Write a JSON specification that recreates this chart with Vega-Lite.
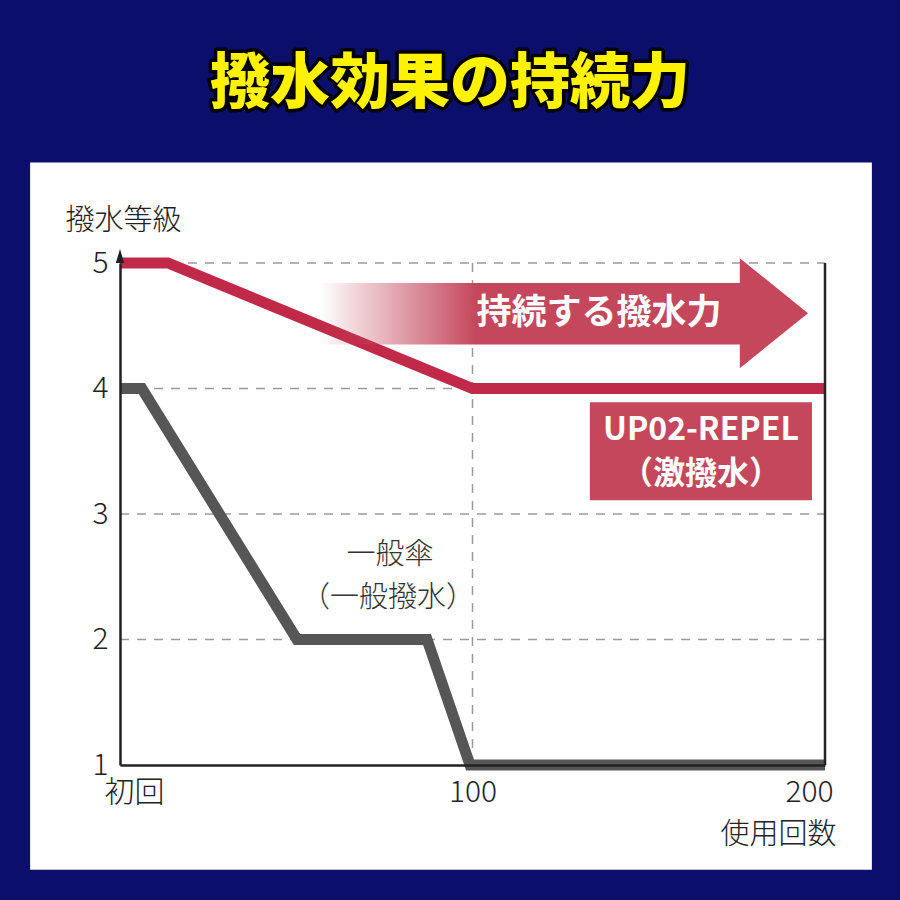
{
  "$schema": "https://vega.github.io/schema/vega-lite/v6.json",
  "width": 705,
  "height": 502,
  "autosize": {"type": "none"},
  "padding": {"left": 120, "top": 263, "right": 75, "bottom": 135},
  "background": "#0b0f6b",
  "config": {
    "font": "Noto Sans CJK JP",
    "view": {"stroke": null}
  },
  "data": {"values": [{"one": 1}]},
  "datasets": {
    "lines": [
      {"series": "UP02-REPEL", "uses": 0, "grade": 5},
      {"series": "UP02-REPEL", "uses": 13.6, "grade": 5},
      {"series": "UP02-REPEL", "uses": 100, "grade": 4},
      {"series": "UP02-REPEL", "uses": 200, "grade": 4},
      {"series": "一般傘", "uses": 0, "grade": 4},
      {"series": "一般傘", "uses": 6.2, "grade": 4},
      {"series": "一般傘", "uses": 50.2, "grade": 2},
      {"series": "一般傘", "uses": 87.1, "grade": 2},
      {"series": "一般傘", "uses": 99.3, "grade": 1},
      {"series": "一般傘", "uses": 200, "grade": 1}
    ],
    "ygrid": [{"grade": 2}, {"grade": 3}, {"grade": 4}, {"grade": 5}]
  },
  "layer": [
    {
      "mark": {"type": "rect", "fill": "#ffffff"},
      "encoding": {
        "x": {"datum": -25.5, "type": "quantitative", "scale": {"domain": [0, 200], "nice": false, "zero": false}},
        "x2": {"datum": 213.3},
        "y": {"datum": 5.8, "type": "quantitative", "scale": {"domain": [1, 5], "nice": false, "zero": false}},
        "y2": {"datum": 0.165}
      }
    },
    {
      "mark": {"type": "text", "fontSize": 60, "fontWeight": 900, "fill": "#000000", "stroke": "#000000", "strokeWidth": 7, "strokeJoin": "round", "align": "center", "baseline": "middle"},
      "encoding": {
        "x": {"datum": 93.6, "type": "quantitative", "scale": {"domain": [0, 200]}},
        "y": {"datum": 6.418, "type": "quantitative", "scale": {"domain": [1, 5]}},
        "text": {"value": "撥水効果の持続力"}
      }
    },
    {
      "mark": {"type": "text", "fontSize": 60, "fontWeight": 900, "fill": "#fff200", "align": "center", "baseline": "middle"},
      "encoding": {
        "x": {"datum": 93.6, "type": "quantitative", "scale": {"domain": [0, 200]}},
        "y": {"datum": 6.418, "type": "quantitative", "scale": {"domain": [1, 5]}},
        "text": {"value": "撥水効果の持続力"}
      }
    },
    {
      "data": {"name": "ygrid"},
      "mark": {"type": "rule", "stroke": "#9a9a9a", "strokeWidth": 1.5, "strokeDash": [9, 8]},
      "encoding": {
        "y": {"field": "grade", "type": "quantitative", "scale": {"domain": [1, 5]}},
        "x": {"datum": 0, "type": "quantitative", "scale": {"domain": [0, 200]}},
        "x2": {"datum": 200}
      }
    },
    {
      "mark": {"type": "rule", "stroke": "#9a9a9a", "strokeWidth": 1.5, "strokeDash": [9, 8]},
      "encoding": {
        "x": {"datum": 100, "type": "quantitative", "scale": {"domain": [0, 200]}},
        "y": {"datum": 5, "type": "quantitative", "scale": {"domain": [1, 5]}},
        "y2": {"datum": 1}
      }
    },
    {
      "data": {"name": "lines"},
      "mark": {"type": "line", "strokeWidth": 11, "strokeJoin": "miter", "strokeCap": "butt"},
      "encoding": {
        "x": {
          "field": "uses", "type": "quantitative",
          "scale": {"domain": [0, 200], "nice": false, "zero": false},
          "axis": {
            "values": [0, 100, 200],
            "grid": false,
            "zindex": 1,
            "domainColor": "#222222",
            "domainWidth": 2.5,
            "ticks": false,
            "labelFontSize": 30,
            "labelFontWeight": 300,
            "labelColor": "#222222",
            "labelPadding": 12,
            "labelBaseline": "top",
            "labelOffset": {"expr": "datum.value == 0 ? 14 : datum.value == 200 ? -16 : 0"},
            "labelExpr": "datum.value == 0 ? '初回' : datum.label",
            "labelFlush": false,
            "title": "使用回数",
            "titleFontSize": 29,
            "titleFontWeight": 300,
            "titleColor": "#222222",
            "titleAlign": "right",
            "titleBaseline": "middle",
            "titleX": 716,
            "titleY": 69
          }
        },
        "y": {
          "field": "grade", "type": "quantitative",
          "scale": {"domain": [1, 5], "nice": false, "zero": false},
          "axis": {
            "values": [1, 2, 3, 4, 5],
            "format": "d",
            "grid": false,
            "zindex": 1,
            "domainColor": "#222222",
            "domainWidth": 2.5,
            "ticks": false,
            "labelFontSize": 30,
            "labelFontWeight": 300,
            "labelColor": "#222222",
            "labelPadding": 12,
            "labelFlush": false,
            "title": "撥水等級",
            "titleFontSize": 29,
            "titleFontWeight": 300,
            "titleColor": "#222222",
            "titleAngle": 0,
            "titleAlign": "center",
            "titleBaseline": "middle",
            "titleX": 3,
            "titleY": -43
          }
        },
        "color": {
          "field": "series", "type": "nominal",
          "scale": {"domain": ["UP02-REPEL", "一般傘"], "range": ["#c02a48", "#565656"]},
          "legend": null
        },
        "detail": {"field": "series"}
      }
    },
    {
      "mark": {"type": "rule", "stroke": "#222222", "strokeWidth": 2.5},
      "encoding": {
        "x": {"datum": 200, "type": "quantitative", "scale": {"domain": [0, 200]}},
        "y": {"datum": 1, "type": "quantitative", "scale": {"domain": [1, 5]}},
        "y2": {"datum": 5}
      }
    },
    {
      "mark": {"type": "point", "shape": "M 0 -1 L 0.6 1 L -0.6 1 Z", "size": 196, "filled": true, "fill": "#222222", "opacity": 1, "strokeWidth": 0},
      "encoding": {
        "x": {"datum": 0, "type": "quantitative", "scale": {"domain": [0, 200]}},
        "y": {"datum": 5.056, "type": "quantitative", "scale": {"domain": [1, 5]}}
      }
    },
    {
      "mark": {
        "type": "rect",
        "fill": {
          "gradient": "linear", "x1": 0, "y1": 0, "x2": 1, "y2": 0,
          "stops": [
            {"offset": 0, "color": "rgba(196,71,92,0)"},
            {"offset": 0.37, "color": "rgba(196,71,92,1)"},
            {"offset": 1, "color": "rgba(196,71,92,1)"}
          ]
        }
      },
      "encoding": {
        "x": {"datum": 56.7, "type": "quantitative", "scale": {"domain": [0, 200]}},
        "x2": {"datum": 176.6},
        "y": {"datum": 4.84, "type": "quantitative", "scale": {"domain": [1, 5]}},
        "y2": {"datum": 4.35}
      }
    },
    {
      "mark": {"type": "point", "shape": "M -0.62 -1 L 0.62 0 L -0.62 1 Z", "size": 12100, "filled": true, "fill": "#c4475c", "opacity": 1, "strokeWidth": 0},
      "encoding": {
        "x": {"datum": 185.5, "type": "quantitative", "scale": {"domain": [0, 200]}},
        "y": {"datum": 4.6, "type": "quantitative", "scale": {"domain": [1, 5]}}
      }
    },
    {
      "mark": {"type": "text", "fontSize": 35, "fontWeight": "bold", "fill": "#ffffff", "align": "center", "baseline": "middle"},
      "encoding": {
        "x": {"datum": 135.9, "type": "quantitative", "scale": {"domain": [0, 200]}},
        "y": {"datum": 4.6, "type": "quantitative", "scale": {"domain": [1, 5]}},
        "text": {"value": "持続する撥水力"}
      }
    },
    {
      "mark": {"type": "rect", "fill": "#c4475c"},
      "encoding": {
        "x": {"datum": 133.3, "type": "quantitative", "scale": {"domain": [0, 200]}},
        "x2": {"datum": 196.3},
        "y": {"datum": 3.89, "type": "quantitative", "scale": {"domain": [1, 5]}},
        "y2": {"datum": 3.11}
      }
    },
    {
      "mark": {"type": "text", "fontSize": 32, "fontWeight": "bold", "fill": "#ffffff", "align": "center", "baseline": "middle"},
      "encoding": {
        "x": {"datum": 164.8, "type": "quantitative", "scale": {"domain": [0, 200]}},
        "y": {"datum": 3.67, "type": "quantitative", "scale": {"domain": [1, 5]}},
        "text": {"value": "UP02-REPEL"}
      }
    },
    {
      "mark": {"type": "text", "fontSize": 32, "fontWeight": "bold", "fill": "#ffffff", "align": "center", "baseline": "middle"},
      "encoding": {
        "x": {"datum": 164.8, "type": "quantitative", "scale": {"domain": [0, 200]}},
        "y": {"datum": 3.32, "type": "quantitative", "scale": {"domain": [1, 5]}},
        "text": {"value": "（激撥水）"}
      }
    },
    {
      "mark": {"type": "text", "fontSize": 29, "fontWeight": 300, "fill": "#333333", "align": "center", "baseline": "middle"},
      "encoding": {
        "x": {"datum": 76.6, "type": "quantitative", "scale": {"domain": [0, 200]}},
        "y": {"datum": 2.673, "type": "quantitative", "scale": {"domain": [1, 5]}},
        "text": {"value": "一般傘"}
      }
    },
    {
      "mark": {"type": "text", "fontSize": 29, "fontWeight": 300, "fill": "#333333", "align": "center", "baseline": "middle"},
      "encoding": {
        "x": {"datum": 76.0, "type": "quantitative", "scale": {"domain": [0, 200]}},
        "y": {"datum": 2.33, "type": "quantitative", "scale": {"domain": [1, 5]}},
        "text": {"value": "（一般撥水）"}
      }
    }
  ]
}
